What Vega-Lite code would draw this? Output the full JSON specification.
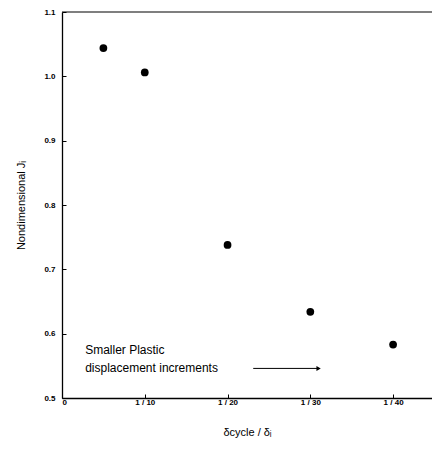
{
  "$schema": "https://vega.github.io/schema/vega-lite/v6.json",
  "width": 370,
  "height": 386,
  "autosize": {"type": "none"},
  "padding": {"left": 62, "top": 12, "right": 0, "bottom": 53},
  "background": "white",
  "config": {
    "view": {"stroke": null},
    "font": "Liberation Sans",
    "axis": {"domainColor": "black", "tickColor": "black", "labelColor": "black", "titleColor": "black", "grid": false}
  },
  "datasets": {
    "pts": [
      {"x": 0.5, "y": 1.044},
      {"x": 1, "y": 1.006},
      {"x": 2, "y": 0.738},
      {"x": 3, "y": 0.634},
      {"x": 4, "y": 0.583}
    ],
    "notes": [
      {"x": 0.28, "y": 0.575, "label": "Smaller Plastic"},
      {"x": 0.28, "y": 0.546, "label": "displacement increments"}
    ],
    "arrow": [
      {"x": 2.31, "x2": 3.1, "y": 0.546}
    ]
  },
  "layer": [
    {
      "data": {"values": [{"y": 1.1}]},
      "mark": {"type": "rule", "color": "black", "strokeWidth": 1.2},
      "encoding": {"y": {"field": "y", "type": "quantitative", "scale": {"domain": [0.5, 1.1]}}}
    },
    {
      "data": {"name": "pts"},
      "mark": {"type": "point", "filled": true, "color": "black", "size": 60, "opacity": 1},
      "encoding": {
        "x": {
          "field": "x", "type": "quantitative",
          "scale": {"domain": [0, 4.47], "nice": false},
          "axis": {
            "values": [0, 1, 2, 3, 4],
            "labelExpr": "datum.value == 0 ? '0' : '1 / ' + (datum.value * 10)",
            "title": "δcycle / δᵢ",
            "titleFontSize": 11, "titleFontWeight": "normal", "titlePadding": 20,
            "labelFontSize": 8, "labelFontWeight": "bold", "labelPadding": 4,
            "tickSize": -4, "tickWidth": 1, "domainWidth": 1.3
          }
        },
        "y": {
          "field": "y", "type": "quantitative",
          "scale": {"domain": [0.5, 1.1], "nice": false, "zero": false},
          "axis": {
            "values": [0.5, 0.6, 0.7, 0.8, 0.9, 1.0, 1.1],
            "format": ".1f",
            "title": "Nondimensional Jᵢ",
            "titleFontSize": 11, "titleFontWeight": "normal", "titlePadding": 17,
            "labelFontSize": 8, "labelFontWeight": "bold", "labelPadding": 11,
            "tickSize": -4, "tickWidth": 1, "domainWidth": 1.3
          }
        }
      }
    },
    {
      "data": {"name": "notes"},
      "mark": {"type": "text", "align": "left", "baseline": "middle", "fontSize": 12, "color": "black"},
      "encoding": {
        "x": {"field": "x", "type": "quantitative"},
        "y": {"field": "y", "type": "quantitative"},
        "text": {"field": "label"}
      }
    },
    {
      "data": {"name": "arrow"},
      "mark": {"type": "rule", "color": "black", "strokeWidth": 1},
      "encoding": {
        "x": {"field": "x", "type": "quantitative"},
        "x2": {"field": "x2"},
        "y": {"field": "y", "type": "quantitative"}
      }
    },
    {
      "data": {"name": "arrow"},
      "mark": {"type": "point", "shape": "triangle-right", "filled": true, "color": "black", "size": 25, "opacity": 1},
      "encoding": {
        "x": {"field": "x2", "type": "quantitative"},
        "y": {"field": "y", "type": "quantitative"}
      }
    }
  ]
}
